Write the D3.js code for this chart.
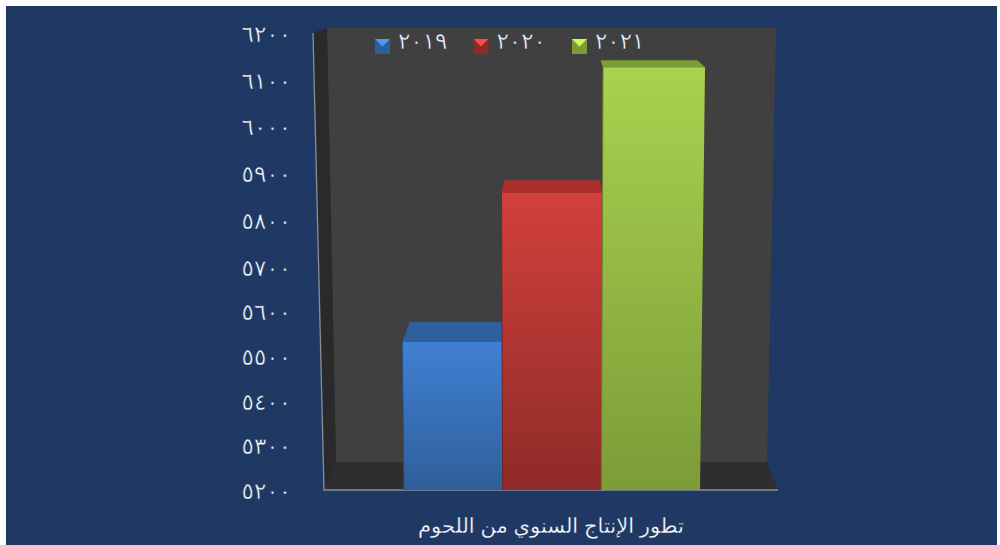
<!DOCTYPE html>
<html><head><meta charset="utf-8">
<script src="https://cdn.jsdelivr.net/npm/d3@7/dist/d3.min.js"></script>
<style>html,body{margin:0;padding:0;background:#fff}svg{display:block}text{font-family:"Liberation Sans","DejaVu Sans",sans-serif;fill:#fff}</style>
</head><body><svg id="c" width="1000" height="545"></svg>
<script>
const categories=["2019","2020","2021"];
const categoryLabels=["٢٠١٩","٢٠٢٠","٢٠٢١"];
const values=[5532,5858,6127];
const tickValues=[5200,5300,5400,5500,5600,5700,5800,5900,6000,6100,6200];
const tickLabels=["٥٢٠٠","٥٣٠٠","٥٤٠٠","٥٥٠٠","٥٦٠٠","٥٧٠٠","٥٨٠٠","٥٩٠٠","٦٠٠٠","٦١٠٠","٦٢٠٠"];
const chartTitle="تطور الإنتاج السنوي من اللحوم";
const frontColors=[["#4080d2","#2f5f9a"],["#d2403c","#8e2b28"],["#a8d24f","#7c9c38"]];
const topColors=["#2f5f9e","#a82f2c","#7b9c36"];

const svg=d3.select("#c");
const W=1000,H=545,base=490;
svg.append("rect").attr("x",6).attr("y",6).attr("width",W-9).attr("height",H-6).attr("fill","#1f3864");
const defs=svg.append("defs");
const y=d3.scaleLinear().domain([5200,5700,6200]).range([base,267,33]);
const x=d3.scaleBand().domain(categories).range([404,700]);
const cx=552;
const line=d3.line();
const front=(px,py)=>[cx+(px-cx)*(1+(base-py)*0.00008),py];
const back=(p)=>[cx+(p[0]-cx)*0.95,-3.8+0.953*p[1]];
const poly=(pts,fill,g=svg)=>g.append("path").attr("d",line(pts)+"Z").attr("fill",fill);

poly([[327,28],[776,28],[767,462],[336,462]],"#404040");
poly([[313,33],[327,28],[336,462],[324,490]],"#2a2a2a");
poly([[336,462],[767,462],[778,490],[324,490]],"#2e2e2e");
svg.append("path").attr("d",line([[313,33],[324,490],[778,490]])).attr("fill","none").attr("stroke","#8a8f96").attr("stroke-width",1.3);

categories.forEach((c,i)=>{
  const g=defs.append("linearGradient").attr("id","g"+i).attr("x1",0).attr("y1",0).attr("x2",0).attr("y2",1);
  g.append("stop").attr("offset",0).attr("stop-color",frontColors[i][0]);
  g.append("stop").attr("offset",1).attr("stop-color",frontColors[i][1]);
  const l=x(c),r=l+x.bandwidth(),t=y(values[i]);
  const fl=front(l,t),fr=front(r,t),bl=front(l,base),br=front(r,base);
  poly([back(fl),back(fr),fr,fl],topColors[i]);
  poly([fl,fr,br,bl],`url(#g${i})`);
  svg.append("path").attr("d",line([fl,bl])).attr("stroke",d3.color(frontColors[i][1]).darker(0.6)).attr("stroke-width",1).attr("fill","none");
});

const digitStyle=(s,sp)=>s.attr("font-size",23).attr("letter-spacing",sp)
  .attr("stroke","#1f3864").attr("stroke-width",0.55)
  .style("direction","ltr").style("unicode-bidi","bidi-override").style("font-family",'"DejaVu Sans"');
const ax=svg.append("g").attr("transform","translate(291,1)")
 .call(d3.axisLeft(y).tickValues(tickValues).tickSize(0).tickPadding(0).tickFormat((d,i)=>tickLabels[i]));
ax.select(".domain").remove();
ax.selectAll("text").attr("fill","#fff").call(digitStyle,7.5);

const legX=d3.scalePoint().domain(categories).range([375,572]);
categories.forEach((c,i)=>{
  const lx=legX(c),ly=39,s=15;
  svg.append("rect").attr("x",lx).attr("y",ly).attr("width",s).attr("height",s).attr("fill",frontColors[i][1]);
  poly([[lx,ly],[lx+s,ly],[lx+s/2,ly+s/2]],d3.color(frontColors[i][0]).brighter(0.5));
  svg.append("text").attr("x",lx+23).attr("y",49).call(digitStyle,7).text(categoryLabels[i]);
});

svg.append("text").attr("x",551).attr("y",533).attr("text-anchor","middle").attr("font-size",21)
  .attr("stroke","#1f3864").attr("stroke-width",0.3).text(chartTitle);
</script></body></html>
